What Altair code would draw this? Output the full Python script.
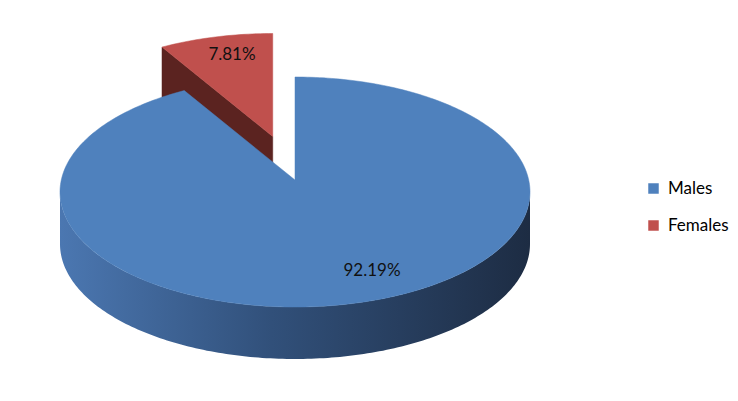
import altair as alt
import numpy as np
import pandas as pd

# ---- data ----
categories = ["Males", "Females"]
shares = [92.19, 7.81]
labels = ["92.19%", "7.81%"]
top_colors = ["#4F81BD", "#C0504D"]
face_colors = ["#2B4468", "#5B2320"]
explode = [0.0, 0.39]

# ---- layout (pixels of the plot area) ----
W, H = 722, 385
CX, CY = 287, 184          # centre of the top ellipse
APEX_DY = -12              # perspective: pie centre sits above ellipse centre
RX, RY = 235, 115
DEPTH = 52
label_pos = {"Males": (364, 263), "Females": (224, 47)}


def rim(theta, ox, oy, down=0.0):
    t = np.radians(theta)
    return CX + ox + RX * np.sin(t), CY + oy - RY * np.cos(t) + down


tops, sides, faces = [], [], []
total = sum(shares)
start = 0.0
for cat, val, ex in zip(categories, shares, explode):
    end = start + 360.0 * val / total
    mid = np.radians((start + end) / 2)
    ox, oy = ex * RX * np.sin(mid), -ex * RY * np.cos(mid)
    ax, ay = CX + ox, CY + oy + APEX_DY
    # top face
    pts = [(ax, ay)]
    for th in np.linspace(start, end, max(3, int(end - start) + 1)):
        pts.append(rim(th, ox, oy))
    for i, (x, y) in enumerate(pts):
        tops.append({"category": cat, "i": i, "x": x, "y": y})
    # outer side wall (front half only)
    a, b = max(start, 90.0), min(end, 270.0)
    if b > a:
        ths = np.linspace(a, b, int(b - a) + 1)
        ring = [rim(t, ox, oy) for t in ths] + [rim(t, ox, oy, DEPTH) for t in ths[::-1]]
        for i, (x, y) in enumerate(ring):
            sides.append({"category": cat, "i": i, "x": x, "y": y})
    # radial cut faces that face the viewer
    for th, visible in ((start, np.sin(np.radians(start)) < -1e-6),
                        (end, np.sin(np.radians(end)) > 1e-6)):
        if visible and ex > 0:
            rx_, ry_ = rim(th, ox, oy)
            quad = [(ax, ay), (rx_, ry_), (rx_, ry_ + DEPTH), (ax, ay + DEPTH)]
            for i, (x, y) in enumerate(quad):
                faces.append({"category": cat, "i": i, "x": x, "y": y})
    start = end

tops_df = pd.DataFrame(tops)
sides_df = pd.DataFrame(sides)
faces_df = pd.DataFrame(faces)
labels_df = pd.DataFrame({
    "category": categories,
    "label": labels,
    "x": [label_pos[c][0] for c in categories],
    "y": [label_pos[c][1] for c in categories],
})

xenc = alt.X("x:Q", scale=alt.Scale(domain=[0, W], nice=False, zero=False), axis=None)
yenc = alt.Y("y:Q", scale=alt.Scale(domain=[0, H], nice=False, zero=False, reverse=True), axis=None)

face_layer = alt.Chart(faces_df).mark_line(
    interpolate="linear-closed", strokeWidth=0.5
).encode(
    x=xenc, y=yenc, order="i:Q", detail="category:N",
    fill=alt.Fill("category:N", scale=alt.Scale(domain=categories, range=face_colors), legend=None),
    stroke=alt.Stroke("category:N", scale=alt.Scale(domain=categories, range=face_colors), legend=None),
)

side_grad = alt.LinearGradient(
    gradient="linear",
    stops=[alt.GradientStop(color="#4B77B1", offset=0),
           alt.GradientStop(color="#31507A", offset=0.45),
           alt.GradientStop(color="#1D2C43", offset=1)],
    x1=0, x2=1, y1=0, y2=0,
)
side_layer = alt.Chart(sides_df).mark_line(
    interpolate="linear-closed", fill=side_grad, strokeWidth=0
).encode(x=xenc, y=yenc, order="i:Q", detail="category:N")

top_layer = alt.Chart(tops_df).mark_line(
    interpolate="linear-closed", strokeWidth=0.5
).encode(
    x=xenc, y=yenc, order="i:Q", detail="category:N",
    fill=alt.Fill("category:N", scale=alt.Scale(domain=categories, range=top_colors),
                  legend=alt.Legend(orient="none", legendX=637, legendY=172, title=None,
                                    symbolType="square", symbolSize=110, symbolStrokeWidth=0,
                                    labelFont="Lato", labelFontSize=17, labelColor="black",
                                    rowPadding=19, labelOffset=6, padding=0)),
    stroke=alt.Stroke("category:N", scale=alt.Scale(domain=categories, range=top_colors), legend=None),
)

text_layer = alt.Chart(labels_df).mark_text(
    font="Lato", fontSize=17, color="#111111", align="center", baseline="middle"
).encode(x=xenc, y=yenc, text="label:N")

chart = alt.layer(face_layer, side_layer, top_layer, text_layer).resolve_scale(
    fill="independent", stroke="independent"
).resolve_legend(
    fill="independent", stroke="independent"
).properties(
    width=W, height=H, padding=0, autosize="none"
).configure_view(stroke=None)

chart.save("out.html", embed_options={"renderer": "svg", "actions": False})
